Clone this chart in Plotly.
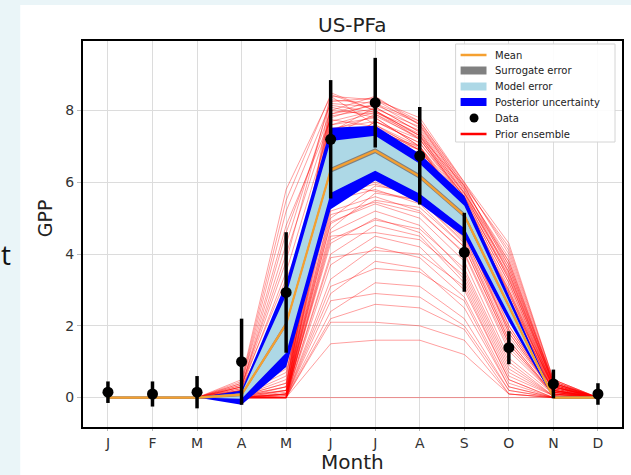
import plotly.graph_objects as go

months = ["J", "F", "M", "A", "M", "J", "J", "A", "S", "O", "N", "D"]
xi = list(range(12))

data_y = [0.15, 0.1, 0.15, 1.0, 2.93, 7.2, 8.22, 6.74, 4.05, 1.39, 0.38, 0.1]
data_err = [0.3, 0.35, 0.45, 1.2, 1.68, 1.65, 1.25, 1.36, 1.1, 0.46, 0.4, 0.3]

mean = [0, 0, 0, 0.08, 2.05, 6.34, 6.88, 6.16, 5.08, 2.55, 0.0, 0.0]
surr_hi = [0.04, 0.04, 0.04, 0.12, 2.12, 6.41, 6.95, 6.23, 5.15, 2.61, 0.04, 0.04]
surr_lo = [-0.04, -0.04, -0.04, 0.04, 1.98, 6.27, 6.81, 6.09, 5.01, 2.49, -0.04, -0.04]
model_hi = [0, 0, 0, 0.12, 2.85, 7.15, 7.3, 6.52, 5.35, 2.68, 0.01, 0]
model_lo = [0, 0, 0, -0.03, 1.25, 5.7, 6.32, 5.68, 4.72, 2.32, 0.0, 0]
post_hi = [0, 0, 0, 0.2, 3.2, 7.52, 7.58, 6.8, 5.62, 2.85, 0.02, 0]
post_lo = [0, 0, 0, -0.2, 0.85, 5.25, 6.05, 5.4, 4.48, 2.12, -0.02, 0]

prior_ensemble = [
    [0, 0, 0, 0.5, 5.8, 8.4, 8.3, 7.6, 5.9, 4.2, 0.5, 0],
    [0, 0, 0, 0.4, 5.2, 8.2, 8.1, 7.4, 5.7, 3.8, 0.45, 0],
    [0, 0, 0, 0.3, 4.6, 8.0, 7.9, 7.2, 5.6, 3.3, 0.4, 0],
    [0, 0, 0, 0.35, 4.0, 7.8, 8.2, 7.5, 5.8, 3.5, 0.35, 0],
    [0, 0, 0, 0.25, 3.5, 7.6, 7.8, 7.0, 5.4, 2.9, 0.3, 0],
    [0, 0, 0, 0.2, 3.0, 7.3, 7.9, 7.3, 5.5, 3.0, 0.3, 0],
    [0, 0, 0, 0.3, 2.6, 7.0, 7.6, 7.0, 5.3, 2.6, 0.25, 0],
    [0, 0, 0, 0.15, 2.2, 6.8, 7.7, 7.1, 5.6, 2.8, 0.3, 0],
    [0, 0, 0, 0.2, 1.8, 6.5, 7.4, 6.8, 5.2, 2.4, 0.2, 0],
    [0, 0, 0, 0.1, 1.5, 6.2, 7.2, 6.6, 5.0, 2.2, 0.2, 0],
    [0, 0, 0, 0.15, 1.2, 5.9, 7.0, 6.5, 4.9, 2.0, 0.15, 0],
    [0, 0, 0, 0.1, 1.0, 5.5, 6.9, 6.3, 4.7, 1.8, 0.15, 0],
    [0, 0, 0, 0.05, 0.5, 8.3, 8.2, 7.7, 6.0, 4.3, 0.5, 0],
    [0, 0, 0, 0.05, 0.3, 8.0, 8.4, 7.6, 5.8, 3.9, 0.4, 0],
    [0, 0, 0, 0.0, 0.2, 7.7, 8.0, 7.3, 5.9, 3.6, 0.35, 0],
    [0, 0, 0, 0.05, 0.4, 7.5, 7.7, 7.1, 5.5, 3.2, 0.3, 0],
    [0, 0, 0, 0.0, 0.1, 7.2, 7.5, 6.9, 5.4, 3.1, 0.3, 0],
    [0, 0, 0, 0.0, 0.0, 7.0, 7.3, 6.8, 5.3, 2.7, 0.25, 0],
    [0, 0, 0, 0.05, 0.3, 6.7, 7.1, 6.6, 5.1, 2.5, 0.2, 0],
    [0, 0, 0, 0.0, 0.1, 6.4, 6.6, 6.2, 4.9, 2.3, 0.2, 0],
    [0, 0, 0, 0.0, 0.0, 6.1, 6.3, 5.8, 4.6, 1.9, 0.15, 0],
    [0, 0, 0, 0.05, 0.2, 5.8, 6.0, 5.6, 4.4, 1.7, 0.15, 0],
    [0, 0, 0, 0.0, 0.0, 5.5, 5.8, 5.4, 4.2, 1.5, 0.1, 0],
    [0, 0, 0, 0.0, 0.1, 5.2, 5.6, 5.2, 4.0, 1.3, 0.1, 0],
    [0, 0, 0, 0.0, 0.0, 4.9, 5.4, 5.0, 3.8, 1.1, 0.1, 0],
    [0, 0, 0, 0.0, 0.0, 4.6, 5.2, 4.8, 3.5, 0.9, 0.05, 0],
    [0, 0, 0, 0.0, 0.05, 4.3, 5.0, 4.6, 3.3, 0.7, 0.05, 0],
    [0, 0, 0, 0.0, 0.0, 4.0, 4.8, 4.5, 3.2, 0.6, 0.05, 0],
    [0, 0, 0, 0.0, 0.0, 3.7, 4.5, 4.2, 3.0, 0.5, 0.0, 0],
    [0, 0, 0, 0.0, 0.0, 3.3, 4.2, 3.9, 2.8, 0.4, 0.0, 0],
    [0, 0, 0, 0.0, 0.0, 2.9, 3.8, 3.6, 2.5, 0.3, 0.0, 0],
    [0, 0, 0, 0.0, 0.0, 2.4, 3.2, 3.1, 2.2, 0.2, 0.0, 0],
    [0, 0, 0, 0.0, 0.0, 2.1, 2.1, 2.0, 1.6, 0.1, 0.0, 0],
    [0, 0, 0, 0.0, 0.0, 1.5, 1.6, 1.6, 1.2, 0.1, 0.0, 0],
    [0, 0, 0, 0.0, 0.0, 0.02, 0.02, 0.02, 0.02, 0.02, 0.0, 0],
    [0, 0, 0, 0.1, 1.0, 8.5, 8.0, 7.2, 5.5, 3.4, 0.4, 0],
    [0, 0, 0, 0.2, 2.0, 8.1, 7.8, 7.0, 5.2, 3.0, 0.35, 0],
    [0, 0, 0, 0.1, 0.8, 7.9, 8.3, 7.8, 6.0, 4.0, 0.45, 0],
    [0, 0, 0, 0.3, 3.8, 8.4, 7.6, 6.9, 5.0, 2.6, 0.3, 0],
    [0, 0, 0, 0.0, 0.3, 7.4, 8.1, 7.4, 5.7, 3.7, 0.4, 0],
    [0, 0, 0, 0.05, 0.6, 6.9, 7.7, 7.2, 5.6, 3.3, 0.35, 0],
    [0, 0, 0, 0.0, 0.2, 6.6, 7.4, 7.0, 5.5, 3.2, 0.3, 0],
    [0, 0, 0, 0.0, 0.1, 6.3, 7.0, 6.7, 5.3, 2.9, 0.25, 0],
    [0, 0, 0, 0.1, 0.7, 6.0, 6.7, 6.4, 5.1, 2.7, 0.2, 0],
    [0, 0, 0, 0.0, 0.0, 5.7, 6.5, 6.1, 4.8, 2.2, 0.2, 0],
    [0, 0, 0, 0.0, 0.0, 5.3, 6.2, 5.9, 4.6, 2.0, 0.15, 0],
    [0, 0, 0, 0.0, 0.1, 5.0, 5.9, 5.7, 4.5, 1.8, 0.15, 0],
    [0, 0, 0, 0.0, 0.0, 4.7, 5.7, 5.5, 4.3, 1.6, 0.1, 0],
    [0, 0, 0, 0.05, 0.4, 6.2, 6.9, 6.5, 5.0, 2.4, 0.2, 0],
    [0, 0, 0, 0.1, 1.3, 7.1, 7.5, 6.9, 5.4, 2.8, 0.3, 0],
    [0, 0, 0, 0.45, 5.5, 8.45, 8.0, 7.3, 5.6, 3.6, 0.45, 0],
    [0, 0, 0, 0.3, 4.3, 8.25, 8.35, 7.7, 5.95, 4.1, 0.5, 0],
    [0, 0, 0, 0.05, 0.2, 8.15, 7.95, 7.35, 5.65, 3.5, 0.4, 0],
    [0, 0, 0, 0.0, 0.0, 7.85, 8.05, 7.55, 5.85, 3.8, 0.4, 0],
    [0, 0, 0, 0.1, 0.9, 7.6, 7.95, 7.45, 5.75, 3.45, 0.35, 0],
    [0, 0, 0, 0.0, 0.05, 7.45, 7.85, 7.25, 5.7, 3.35, 0.3, 0],
    [0, 0, 0, 0.2, 2.4, 7.9, 8.15, 7.65, 5.9, 3.7, 0.4, 0],
    [0, 0, 0, 0.0, 0.0, 5.95, 5.75, 5.5, 4.35, 1.6, 0.1, 0],
    [0, 0, 0, 0.0, 0.15, 5.65, 5.95, 5.6, 4.45, 1.9, 0.15, 0],
    [0, 0, 0, 0.0, 0.0, 5.1, 5.45, 5.15, 4.05, 1.4, 0.1, 0],
    [0, 0, 0, 0.0, 0.05, 4.4, 4.95, 4.7, 3.6, 1.0, 0.05, 0],
    [0, 0, 0, 0.0, 0.0, 3.9, 4.1, 4.0, 3.1, 0.5, 0.0, 0],
    [0, 0, 0, 0.0, 0.0, 3.1, 3.6, 3.5, 2.7, 0.3, 0.0, 0],
    [0, 0, 0, 0.0, 0.0, 2.7, 2.9, 2.8, 2.0, 0.2, 0.0, 0],
    [0, 0, 0, 0.0, 0.0, 2.2, 2.6, 2.5, 1.9, 0.1, 0.0, 0],
    [0, 0, 0, 0.15, 1.7, 6.6, 6.95, 6.45, 5.05, 2.5, 0.2, 0],
    [0, 0, 0, 0.25, 2.9, 7.15, 7.35, 6.9, 5.35, 2.95, 0.25, 0],
    [0, 0, 0, 0.35, 3.3, 6.4, 6.8, 6.35, 4.95, 2.3, 0.2, 0],
    [0, 0, 0, 0.4, 4.8, 7.75, 7.55, 6.95, 5.25, 2.75, 0.3, 0],
    [0, 0, 0, 0.0, 0.0, 6.25, 6.75, 6.3, 4.95, 2.6, 0.2, 0],
    [0, 0, 0, 0.0, 0.1, 4.85, 5.5, 5.3, 4.2, 1.5, 0.1, 0],
    [0, 0, 0, 0.0, 0.0, 4.5, 4.6, 4.4, 3.4, 0.8, 0.05, 0],
]

legend_labels = ["Mean", "Surrogate error", "Model error",
                 "Posterior uncertainty", "Data", "Prior ensemble"]

FONT = "DejaVu Sans"
fig = go.Figure()

for member in prior_ensemble:
    fig.add_trace(go.Scatter(x=xi, y=member, mode="lines",
                             line=dict(color="rgba(255,0,0,0.42)", width=0.9),
                             showlegend=False, hoverinfo="skip"))

fig.add_trace(go.Scatter(x=xi, y=post_lo, mode="lines", line=dict(width=0, color="blue"),
                         hoverinfo="skip"))
fig.add_trace(go.Scatter(x=xi, y=post_hi, mode="lines", line=dict(width=0, color="blue"),
                         fill="tonexty", fillcolor="#0000ff", hoverinfo="skip"))
fig.add_trace(go.Scatter(x=xi, y=model_lo, mode="lines", line=dict(width=0, color="#add8e6"),
                         hoverinfo="skip"))
fig.add_trace(go.Scatter(x=xi, y=model_hi, mode="lines", line=dict(width=0, color="#add8e6"),
                         fill="tonexty", fillcolor="#add8e6", hoverinfo="skip"))
fig.add_trace(go.Scatter(x=xi, y=surr_lo, mode="lines", line=dict(width=0, color="grey"),
                         hoverinfo="skip"))
fig.add_trace(go.Scatter(x=xi, y=surr_hi, mode="lines", line=dict(width=0, color="grey"),
                         fill="tonexty", fillcolor="#808080", hoverinfo="skip"))
fig.add_trace(go.Scatter(x=xi, y=mean, mode="lines", line=dict(color="#f5a030", width=2.2)))
fig.add_trace(go.Scatter(x=xi, y=data_y, mode="markers",
                         marker=dict(color="black", size=11),
                         error_y=dict(type="data", array=data_err, color="black",
                                      thickness=3.5, width=0)))

L, R, T, B = 83, 7, 41, 48
W, H = 631, 475
pw, ph = W - L - R, H - T - B


def px(x):
    return (x - L) / pw


def py(y):
    return (H - B - y) / ph


# white slide panel
fig.add_shape(type="rect", xref="paper", yref="paper",
              x0=px(20), x1=px(W + 5), y0=py(H + 5), y1=py(5),
              fillcolor="white", line=dict(width=0), layer="below")

# legend box
fig.add_shape(type="rect", xref="paper", yref="paper",
              x0=px(457), x1=px(617), y0=py(142), y1=py(44),
              fillcolor="rgba(255,255,255,0.9)", line=dict(color="#d4d4d4", width=1))
ys = [55, 70.5, 86.5, 102, 118, 134]
sx0, sx1 = 462, 488
fig.add_shape(type="line", xref="paper", yref="paper", x0=px(sx0), x1=px(sx1),
              y0=py(ys[0]), y1=py(ys[0]), line=dict(color="#f5a030", width=2.5))
for yy, col in zip(ys[1:4], ["#808080", "#add8e6", "#0000ff"]):
    fig.add_shape(type="rect", xref="paper", yref="paper", x0=px(sx0), x1=px(sx1),
                  y0=py(yy + 4), y1=py(yy - 4), fillcolor=col, line=dict(width=0))
fig.add_shape(type="circle", xref="paper", yref="paper", x0=px(471), x1=px(480),
              y0=py(ys[4] + 4.5), y1=py(ys[4] - 4.5), fillcolor="black",
              line=dict(width=0))
fig.add_shape(type="line", xref="paper", yref="paper", x0=px(sx0), x1=px(sx1),
              y0=py(ys[5]), y1=py(ys[5]), line=dict(color="red", width=2.5))
for yy, lab in zip(ys, legend_labels):
    fig.add_annotation(text=lab, xref="paper", yref="paper", x=px(495), y=py(yy),
                       showarrow=False, xanchor="left", yanchor="middle",
                       font=dict(family=FONT, size=10, color="#222"))

fig.add_annotation(text="US-PFa", xref="paper", yref="paper", x=px(354), y=py(25),
                   showarrow=False, font=dict(family=FONT, size=20, color="#222"),
                   xanchor="center", yanchor="middle")
fig.add_annotation(text="GPP", xref="paper", yref="paper", x=px(45), y=py(218),
                   showarrow=False, textangle=-90,
                   font=dict(family=FONT, size=19, color="#222"),
                   xanchor="center", yanchor="middle")
fig.add_annotation(text="Month", xref="paper", yref="paper", x=px(354), y=py(462),
                   showarrow=False, font=dict(family=FONT, size=20, color="#222"),
                   xanchor="center", yanchor="middle")
fig.add_annotation(text="t", xref="paper", yref="paper", x=px(0), y=py(254),
                   showarrow=False, font=dict(family="Open Sans", size=28, color="#111"),
                   xanchor="left", yanchor="middle", borderpad=0)

fig.update_layout(
    width=W, height=H,
    margin=dict(l=L, r=R, t=T, b=B),
    paper_bgcolor="#eaf5f8",
    plot_bgcolor="white",
    showlegend=False,
    xaxis=dict(range=[-0.56, 11.54], tickmode="array", tickvals=xi, ticktext=months,
               showgrid=True, gridcolor="#dcdcdc", gridwidth=1, zeroline=False,
               showline=True, linecolor="black", linewidth=2, mirror=True,
               ticks="outside", ticklen=2, tickcolor="#bbb",
               tickfont=dict(family=FONT, size=14, color="#333")),
    yaxis=dict(range=[-0.82, 9.94], tickvals=[0, 2, 4, 6, 8],
               showgrid=True, gridcolor="#dcdcdc", gridwidth=1, zeroline=False,
               showline=True, linecolor="black", linewidth=2, mirror=True,
               ticks="outside", ticklen=4, tickcolor="#bbb",
               tickfont=dict(family=FONT, size=14, color="#333")),
)

fig.write_html("out.html")
